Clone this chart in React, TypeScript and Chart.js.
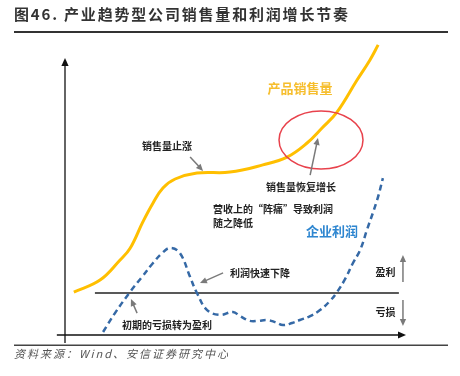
import React, { useEffect, useRef } from "react";
import { Chart, registerables } from "chart.js";

Chart.register(...registerables);

// Conceptual curves, in abstract units (x: time 0-100, y: level 0-100)
const salesX = [2.6, 10.3, 16.2, 19.1, 22.9, 25.9, 28.8, 32.4, 38.8, 48.5, 58.2, 65.3, 71.2, 75.6, 80.0, 85.9, 89.7, 92.1];
const salesY = [14.3, 18.3, 25.0, 28.8, 37.7, 44.0, 49.0, 52.0, 54.0, 54.3, 56.7, 59.3, 64.0, 69.0, 74.3, 85.0, 91.7, 96.7];

const profitX = [11.2, 14.7, 19.1, 22.6, 25.9, 28.5, 30.9, 33.8, 36.8, 38.8, 41.8, 45.6, 49.4, 51.5, 54.4, 56.8, 59.4, 61.8, 64.1, 66.8, 69.1, 72.1, 75.0, 77.9, 80.0, 82.4, 84.7, 86.8, 88.8, 91.8, 93.5];
const profitY = [1.0, 7.3, 14.3, 19.3, 24.0, 27.2, 29.0, 27.3, 19.3, 14.0, 8.3, 6.7, 7.7, 6.3, 4.7, 4.7, 5.0, 4.3, 3.3, 4.0, 5.0, 6.3, 8.3, 11.3, 14.3, 18.7, 24.0, 28.3, 35.0, 45.0, 52.3];

const breakEven = 14.0;
const seriesNames = ["产品销售量", "企业利润"];

const titleText = "图46. 产业趋势型公司销售量和利润增长节奏";
const footerText = "资料来源：Wind、安信证券研究中心";

// annotation texts
const notes = [
  { text: "销售量止涨", x: 30.0, y: 63.0, align: "center" },
  { text: "销售量恢复增长", x: 69.4, y: 49.3, align: "center" },
  { text: "营收上的“阵痛”导致利润", x: 43.5, y: 42.0, align: "left" },
  { text: "随之降低", x: 43.5, y: 37.3, align: "left" },
  { text: "利润快速下降", x: 48.5, y: 20.7, align: "left" },
  { text: "初期的亏损转为盈利", x: 16.8, y: 3.3, align: "left" },
  { text: "盈利", x: 94.3, y: 21.0, align: "center" },
  { text: "亏损", x: 94.3, y: 7.7, align: "center" },
];
const arrows = [
  [36.8, 59.3, 40.6, 54.7],
  [72.1, 53.3, 74.4, 65.7],
  [46.5, 20.7, 39.7, 17.3],
  [21.2, 7.3, 19.4, 12.0],
  [99.4, 17.7, 99.4, 26.7],
  [99.4, 11.7, 99.4, 3.0],
];

const YELLOW = "#FFBF00";
const BLUE = "#3569A6";
const CJK = "'Noto Sans CJK SC', sans-serif";

function arrow(ctx: CanvasRenderingContext2D, x1: number, y1: number, x2: number, y2: number, color: string, lw: number, head: number) {
  const a = Math.atan2(y2 - y1, x2 - x1);
  ctx.save();
  ctx.strokeStyle = color;
  ctx.fillStyle = color;
  ctx.lineWidth = lw;
  ctx.beginPath();
  ctx.moveTo(x1, y1);
  ctx.lineTo(x2 - Math.cos(a) * head * 0.8, y2 - Math.sin(a) * head * 0.8);
  ctx.stroke();
  ctx.beginPath();
  ctx.moveTo(x2, y2);
  ctx.lineTo(x2 - head * Math.cos(a) + head * 0.45 * Math.sin(a), y2 - head * Math.sin(a) - head * 0.45 * Math.cos(a));
  ctx.lineTo(x2 - head * Math.cos(a) - head * 0.45 * Math.sin(a), y2 - head * Math.sin(a) + head * 0.45 * Math.cos(a));
  ctx.closePath();
  ctx.fill();
  ctx.restore();
}

function fitText(ctx: CanvasRenderingContext2D, text: string, x: number, y: number, width: number) {
  (ctx as any).letterSpacing = "0px";
  const w = ctx.measureText(text).width;
  const n = Array.from(text).length;
  const sp = (width - w) / (n - 1);
  (ctx as any).letterSpacing = sp + "px";
  ctx.fillText(text, x, y);
  (ctx as any).letterSpacing = "0px";
}

const decor = {
  id: "decor",
  beforeDatasetsDraw(chart: any) {
    const { ctx } = chart;
    const xs = chart.scales.x;
    const ys = chart.scales.y;
    const px = (v: number) => xs.getPixelForValue(v);
    const py = (v: number) => ys.getPixelForValue(v);
    ctx.save();
    // axes
    arrow(ctx, px(0), py(-2.7), px(0), py(92.3), "#111", 1.3, 8);
    arrow(ctx, px(-2.4), py(0), px(100.3), py(0), "#111", 1.3, 8);
    // break-even line
    ctx.strokeStyle = "#222";
    ctx.lineWidth = 1.3;
    ctx.beginPath();
    ctx.moveTo(px(8.8), py(breakEven));
    ctx.lineTo(px(98.2), py(breakEven));
    ctx.stroke();
    ctx.restore();
  },
  afterDatasetsDraw(chart: any) {
    const { ctx } = chart;
    const xs = chart.scales.x;
    const ys = chart.scales.y;
    const px = (v: number) => xs.getPixelForValue(v);
    const py = (v: number) => ys.getPixelForValue(v);
    ctx.save();
    // ellipse
    const cx = px(75.3), cy = py(65.0);
    const rx = px(75.3 + 12.35) - cx, ry = cy - py(65.0 + 9.67);
    ctx.strokeStyle = "#E8424C";
    ctx.lineWidth = 1.5;
    ctx.beginPath();
    ctx.ellipse(cx, cy, rx, ry, 0, 0, Math.PI * 2);
    ctx.stroke();
    // arrows
    arrows.forEach((a) => arrow(ctx, px(a[0]), py(a[1]), px(a[2]), py(a[3]), "#7a7a7a", 1.5, 7));
    // notes
    ctx.fillStyle = "#222";
    ctx.font = "bold 10px " + CJK;
    ctx.textBaseline = "middle";
    notes.forEach((n) => {
      ctx.textAlign = n.align as CanvasTextAlign;
      ctx.fillText(n.text, px(n.x), py(n.y));
    });
    // series labels
    ctx.textAlign = "center";
    ctx.font = "bold 13px " + CJK;
    ctx.fillStyle = "#F6BE2E";
    ctx.fillText(seriesNames[0], px(69.1), py(82.3));
    ctx.fillStyle = "#2E86D0";
    ctx.fillText(seriesNames[1], px(78.5), py(34.7));
    ctx.restore();
  },
  afterDraw(chart: any) {
    const { ctx } = chart;
    ctx.save();
    ctx.textBaseline = "middle";
    ctx.textAlign = "left";
    ctx.fillStyle = "#333";
    ctx.font = "bold 15px " + CJK;
    fitText(ctx, titleText, 14, 14, 334);
    ctx.fillStyle = "#333";
    ctx.fillRect(14, 31, 434, 2);
    ctx.fillStyle = "#444";
    ctx.fillRect(14, 344.5, 434, 1.5);
    ctx.font = "italic 11px " + CJK;
    ctx.fillStyle = "#555";
    fitText(ctx, footerText, 14, 354, 214);
    ctx.restore();
  },
};

export default function App() {
  const ref = useRef<HTMLCanvasElement>(null);
  useEffect(() => {
    if (!ref.current) return;
    const chart = new Chart(ref.current, {
      type: "line",
      data: {
        datasets: [
          {
            label: seriesNames[0],
            data: salesX.map((x, i) => ({ x, y: salesY[i] })),
            borderColor: YELLOW,
            borderWidth: 3,
            pointRadius: 0,
            tension: 0.4,
            fill: false,
            clip: false as any,
          },
          {
            label: seriesNames[1],
            data: profitX.map((x, i) => ({ x, y: profitY[i] })),
            borderColor: BLUE,
            borderWidth: 2.5,
            borderDash: [6, 4],
            pointRadius: 0,
            tension: 0.4,
            fill: false,
            clip: false as any,
          },
        ],
      },
      options: {
        animation: false,
        responsive: true,
        maintainAspectRatio: false,
        layout: { padding: { left: 65, right: 55, top: 35, bottom: 41 } },
        scales: {
          x: { type: "linear", min: 0, max: 100, display: false },
          y: { type: "linear", min: 0, max: 100, display: false },
        },
        plugins: { legend: { display: false }, tooltip: { enabled: false }, title: { display: false } },
        events: [],
      },
      plugins: [decor],
    });
    return () => chart.destroy();
  }, []);
  return (
    <div style={{ position: "absolute", left: 0, top: 0, width: 460, height: 376, background: "#fff" }}>
      <canvas ref={ref} />
    </div>
  );
}
